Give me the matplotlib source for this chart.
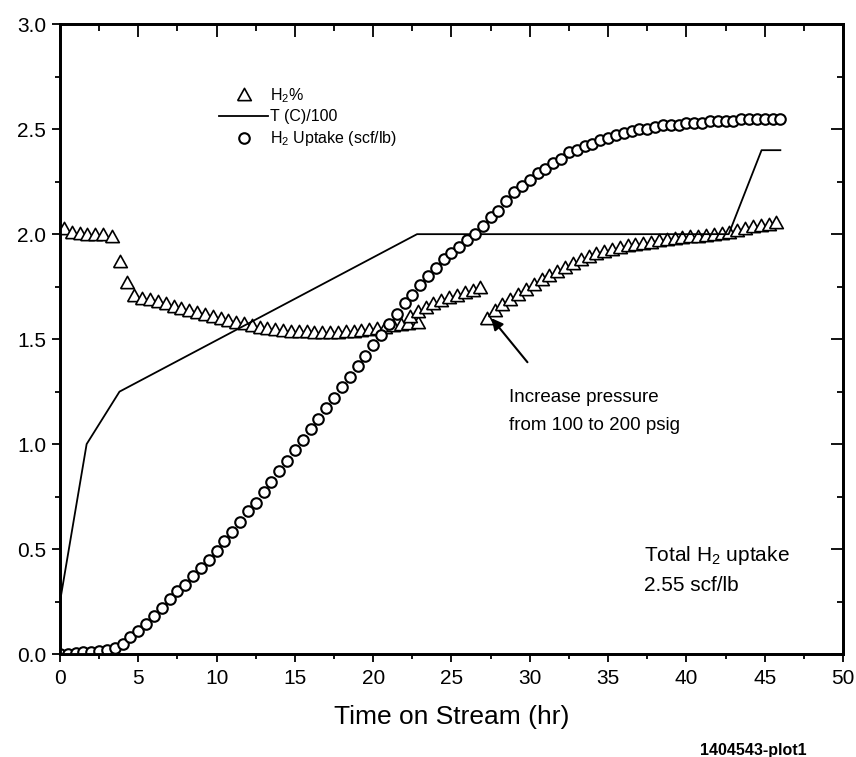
import matplotlib
matplotlib.use("Agg")
import matplotlib.pyplot as plt
from matplotlib.ticker import MultipleLocator, FormatStrFormatter

# ---- data ----
# H2 uptake (scf/lb), sampled every 0.5 hr from 0 to 46 hr
uptake_hours = [
    0.0, 0.5, 1.0, 1.5, 2.0, 2.5, 3.0, 3.5, 4.0, 4.5, 5.0, 5.5, 6.0, 6.5, 7.0, 7.5,
    8.0, 8.5, 9.0, 9.5, 10.0, 10.5, 11.0, 11.5, 12.0, 12.5, 13.0, 13.5, 14.0, 14.5,
    15.0, 15.5, 16.0, 16.5, 17.0, 17.5, 18.0, 18.5, 19.0, 19.5, 20.0, 20.5, 21.0,
    21.5, 22.0, 22.5, 23.0, 23.5, 24.0, 24.5, 25.0, 25.5, 26.0, 26.5, 27.0, 27.5,
    28.0, 28.5, 29.0, 29.5, 30.0, 30.5, 31.0, 31.5, 32.0, 32.5, 33.0, 33.5, 34.0,
    34.5, 35.0, 35.5, 36.0, 36.5, 37.0, 37.5, 38.0, 38.5, 39.0, 39.5, 40.0, 40.5,
    41.0, 41.5, 42.0, 42.5, 43.0, 43.5, 44.0, 44.5, 45.0, 45.5, 46.0]
uptake = [
    0.00, 0.00, 0.005, 0.01, 0.01, 0.015, 0.02, 0.03, 0.05, 0.08, 0.11, 0.145, 0.18,
    0.22, 0.26, 0.30, 0.33, 0.37, 0.41, 0.45, 0.49, 0.54, 0.58, 0.63, 0.68, 0.72,
    0.77, 0.82, 0.87, 0.92, 0.97, 1.02, 1.07, 1.12, 1.17, 1.22, 1.27, 1.32, 1.37,
    1.42, 1.47, 1.52, 1.57, 1.62, 1.67, 1.71, 1.76, 1.80, 1.84, 1.88, 1.91, 1.94,
    1.97, 2.00, 2.04, 2.08, 2.11, 2.16, 2.20, 2.23, 2.26, 2.29, 2.31, 2.34, 2.36,
    2.39, 2.40, 2.42, 2.43, 2.45, 2.46, 2.47, 2.48, 2.49, 2.50, 2.50, 2.51, 2.52,
    2.52, 2.52, 2.53, 2.53, 2.53, 2.54, 2.54, 2.54, 2.54, 2.55, 2.55, 2.55, 2.55,
    2.55, 2.55]

# H2 % (three stretches: before, around and after the pressure change)
h2_hours = [
    0.25, 0.75, 1.25, 1.75, 2.25, 2.75, 3.3, 3.8, 4.25, 4.75,
    5.25, 5.75, 6.25, 6.75, 7.25, 7.75, 8.25, 8.75, 9.25, 9.75, 10.25, 10.75,
    11.25, 11.75, 12.25, 12.75, 13.25, 13.75, 14.25, 14.75, 15.25, 15.75, 16.25,
    16.75, 17.25, 17.75, 18.25, 18.75, 19.25, 19.75, 20.25, 20.75, 21.25, 21.75,
    22.25, 22.85,
    22.35, 22.85, 23.35, 23.85, 24.35, 24.85, 25.35, 25.85, 26.35, 26.85,
    27.25, 27.75, 28.25, 28.75, 29.25, 29.75, 30.25, 30.75, 31.25, 31.75, 32.25,
    32.75, 33.25, 33.75, 34.25, 34.75, 35.25, 35.75, 36.25, 36.75, 37.25, 37.75,
    38.25, 38.75, 39.25, 39.75, 40.25, 40.75, 41.25, 41.75, 42.25, 42.75, 43.25,
    43.75, 44.25, 44.75, 45.25, 45.75]
h2_pct = [
    2.03, 2.01, 2.005, 2.0, 2.0, 2.0, 1.99, 1.87, 1.77, 1.71,
    1.695, 1.69, 1.68, 1.67, 1.66, 1.65, 1.64, 1.63, 1.62, 1.61, 1.60, 1.59,
    1.58, 1.575, 1.565, 1.56, 1.555, 1.55, 1.545, 1.54, 1.54, 1.54, 1.535,
    1.535, 1.535, 1.535, 1.54, 1.54, 1.545, 1.55, 1.555, 1.56, 1.565, 1.57,
    1.575, 1.58,
    1.61, 1.635, 1.655, 1.67, 1.685, 1.70, 1.71, 1.725, 1.735, 1.75,
    1.60, 1.64, 1.665, 1.69, 1.715, 1.74, 1.765, 1.785, 1.805, 1.825, 1.845,
    1.865, 1.88, 1.895, 1.91, 1.92, 1.93, 1.94, 1.95, 1.955, 1.96, 1.965,
    1.97, 1.975, 1.98, 1.985, 1.99, 1.99, 1.995, 2.0, 2.005, 2.01, 2.02,
    2.03, 2.04, 2.045, 2.05, 2.06]

# temperature / 100 (break points of the solid line)
temp_hours = [0.0, 1.7, 3.8, 22.8, 42.7, 44.8, 46.0]
temp_scaled = [0.25, 1.0, 1.25, 2.0, 2.0, 2.40, 2.40]

legend_labels = ["H$_2$%", "T (C)/100", "H$_2$ Uptake (scf/lb)"]

plt.rcParams['font.family'] = ['Liberation Sans', 'DejaVu Sans']
plt.rcParams['mathtext.default'] = 'regular'

fig = plt.figure(figsize=(8.56, 7.57), dpi=100)
ax = fig.add_axes([0.0701, 0.136, 0.9147, 0.832])

# wide open triangle
tri = [(-1, -0.9), (1, -0.9), (0, 0.9), (-1, -0.9)]

h_tri, = ax.plot(h2_hours, h2_pct, linestyle='none', marker=tri, ms=9.8,
                 mfc='white', mec='black', mew=1.2, zorder=3, label=legend_labels[0])
h_line, = ax.plot(temp_hours, temp_scaled, color='black', lw=1.3, zorder=4,
                  label=legend_labels[1])
h_circ, = ax.plot(uptake_hours, uptake, linestyle='none', marker='o', ms=7.6,
                  mfc='white', mec='black', mew=1.5, zorder=5, label=legend_labels[2])

ax.set_xlim(0, 50)
ax.set_ylim(0, 3)
ax.xaxis.set_major_locator(MultipleLocator(5))
ax.xaxis.set_minor_locator(MultipleLocator(2.5))
ax.yaxis.set_major_locator(MultipleLocator(0.5))
ax.yaxis.set_minor_locator(MultipleLocator(0.25))
ax.yaxis.set_major_formatter(FormatStrFormatter('%.1f'))
ax.tick_params(which='both', direction='out', width=1.3, labelsize=15)
ax.tick_params(which='major', length=6)
ax.tick_params(which='minor', length=3.5)
ax.tick_params(axis='x', pad=5)
ax.tick_params(axis='y', pad=4)
ax.set_xlabel("Time on Stream (hr)", fontsize=19, labelpad=12)

# top and right ticks point inward
axt = ax.twiny()
axt.set_xlim(0, 50)
axt.xaxis.set_major_locator(MultipleLocator(5))
axt.xaxis.set_minor_locator(MultipleLocator(2.5))
axt.tick_params(axis='x', which='both', direction='in', width=1.3, labeltop=False)
axt.tick_params(axis='x', which='major', length=9)
axt.tick_params(axis='x', which='minor', length=5)

axr = ax.twinx()
axr.set_ylim(0, 3)
axr.yaxis.set_major_locator(MultipleLocator(0.5))
axr.yaxis.set_minor_locator(MultipleLocator(0.25))
axr.tick_params(axis='y', which='both', direction='in', width=1.3, labelright=False)
axr.tick_params(axis='y', which='major', length=9)
axr.tick_params(axis='y', which='minor', length=4)

for a in (ax, axt, axr):
    for s in a.spines.values():
        s.set_linewidth(1.8)

ax.legend(handles=[h_tri, h_line, h_circ], loc='upper left',
          bbox_to_anchor=(0.203, 0.902), frameon=False, fontsize=11.5,
          handlelength=3.1, handletextpad=0.1, labelspacing=0.3,
          borderpad=0, borderaxespad=0, numpoints=1)

ax.annotate("", xy=(27.55, 1.60), xytext=(29.85, 1.39),
            arrowprops=dict(arrowstyle='-|>', color='black', lw=1.5,
                            mutation_scale=17, shrinkA=0, shrinkB=0))
ax.text(28.7, 1.155, "Increase pressure\nfrom 100 to 200 psig", fontsize=13.5,
        va='center', ha='left', linespacing=1.85)
ax.text(37.3, 0.405, "Total H$_2$ uptake\n2.55 scf/lb", fontsize=15,
        va='center', ha='left', linespacing=1.6)

fig.text(0.88, 0.009, "1404543-plot1", fontsize=11.5, fontweight='bold',
         ha='center', va='center')

fig.savefig("out.png", dpi=100)
